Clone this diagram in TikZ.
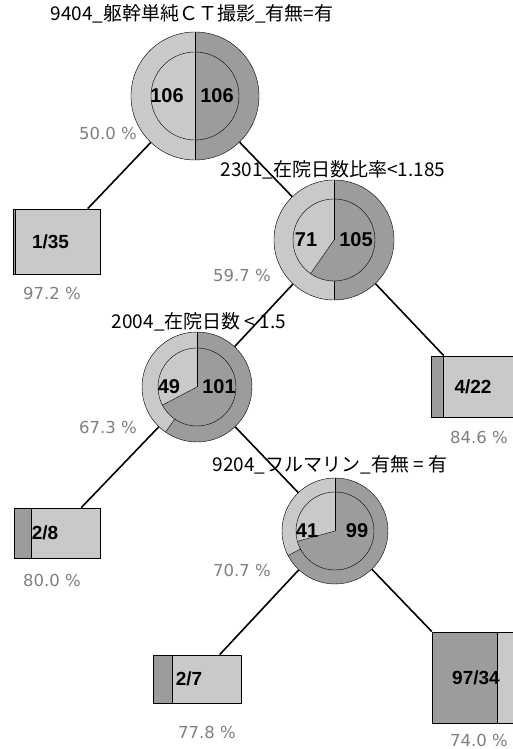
\documentclass[tikz,border=0pt]{standalone}
\usepackage{fontspec}
\setmainfont{Liberation Sans}
\newfontfamily\jpfont{Noto Sans CJK JP}
\newfontfamily\pctfont{DejaVu Sans}
\usetikzlibrary{calc}
\definecolor{lightc}{gray}{0.79}
\definecolor{darkc}{gray}{0.61}
\tikzset{
  edge/.style={line width=1.6pt},
  split/.style={font=\jpfont\fontsize{19}{19}\selectfont, inner sep=0pt},
  pct/.style={font=\pctfont\fontsize{16.5}{16.5}\selectfont, text=black!50, inner sep=0pt},
  count/.style={font=\bfseries\fontsize{20}{20}\selectfont, inner sep=0pt},
  leaf/.style={draw, line width=0.8pt, fill=lightc, inner sep=0pt, font=\bfseries\fontsize{19}{19}\selectfont},
  darkpart/.style={path picture={
      \fill[darkc] (path picture bounding box.south west) rectangle ([xshift=#1]path picture bounding box.north west);
      \draw[line width=1pt] ([xshift=#1]path picture bounding box.south west) -- ([xshift=#1]path picture bounding box.north west);}},
}
\begin{document}
\begin{tikzpicture}[x=1pt, y=1pt]
		\fill [white] (0,0) rectangle (513,749);
		\useasboundingbox (0,0) rectangle (513,749);
		% split nodes: name/x/y/outer r/inner r/outer light angle/inner light angle/left/right
		\foreach \n/\x/\y/\R/\r/\a/\b/\p/\q in {root/195/653/64/44/180/180/106/106, c2/334/509/60/41/180/145.2/71/105, c3/197/362/55/39/145.2/117.6/49/101, c4/335/218/53/39/117.6/105.4/41/99} {
			\fill [darkc] (\x,\y) circle (\R pt);
			\fill [lightc] (\x,\y) -- ++(90:\R pt) arc (90:90+\a:\R pt) -- cycle;
			\fill [darkc] (\x,\y) circle (\r pt);
			\fill [lightc] (\x,\y) -- ++(90:\r pt) arc (90:90+\b:\r pt) -- cycle;
			\draw (\x,\y) circle (\r pt);
			\draw (\x,\y) -- ++(90:\R pt);
			\draw (\x,\y) -- ++(90+\b:\r pt);
			\draw ($(\x,\y)+(90+\a:\r pt)$) -- ($(\x,\y)+(90+\a:\R pt)$);
			\node [draw, circle, minimum size=2*\R pt, inner sep=0pt] (\n) at (\x,\y) {};
			\node [count] (\n-l) at (\x-28,\y) {\p};
			\node [count] (\n-r) at (\x+22,\y) {\q};
		}
		% leaves
		\node [leaf, darkpart=2.4pt, minimum width=87pt, minimum height=65pt] (l1) at (56.5,507.5) {\hspace*{-12pt}1/35};
		\node [leaf, darkpart=12.9pt, minimum width=84pt, minimum height=61pt] (l2) at (473,362.5) {4/22};
		\node [leaf, darkpart=17.2pt, minimum width=86pt, minimum height=50pt] (l3) at (57,216) {\hspace*{-24pt}2/8};
		\node [leaf, darkpart=19.6pt, minimum width=88pt, minimum height=48pt] (l4) at (197,70) {\hspace*{-16pt}2/7};
		\node [leaf, darkpart=65.2pt, minimum width=88pt, minimum height=91pt] (l5) at (476,71.5) {97/34};
		\draw [edge] (root) -- (c2);
		\draw [edge] (root) -- (l1);
		\draw [edge] (c2) -- (c3);
		\draw [edge] (c2) -- (l2);
		\draw [edge] (c3) -- (l3);
		\draw [edge] (c3) -- (c4);
		\draw [edge] (c4) -- (l4);
		\draw [edge] (c4) -- (l5);
		% split labels
		\node [split] (s-root) at (192,735) {9404\_躯幹単純ＣＴ撮影\_有無=有};
		\node [split] (s-c2) at (333,579) {2301\_在院日数比率<1.185};
		\node [split] (s-c3) at (199,427) {2004\_在院日数 < 1.5};
		\node [split] (s-c4) at (330,284) {9204\_フルマリン\_有無 = 有};
		% percentages
		\node [pct] (p-root) at (108,615) {50.0 \%};
		\node [pct] (p-c2) at (242,473) {59.7 \%};
		\node [pct] (p-c3) at (108,322) {67.3 \%};
		\node [pct] (p-c4) at (242,179) {70.7 \%};
		\node [pct] (p-l1) at (52,455) {97.2 \%};
		\node [pct] (p-l2) at (479,312) {84.6 \%};
		\node [pct] (p-l3) at (52,169) {80.0 \%};
		\node [pct] (p-l4) at (207,17) {77.8 \%};
		\node [pct] (p-l5) at (479,9) {74.0 \%};
\end{tikzpicture}
\end{document}
